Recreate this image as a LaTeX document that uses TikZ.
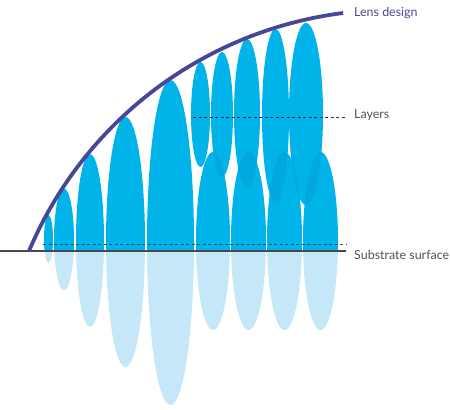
\documentclass[tikz,border=0pt]{standalone}
\usepackage{fontspec}
\setmainfont{Lato}
\definecolor{lensblue}{HTML}{47479A}
\definecolor{dropblue}{HTML}{00B4EA}
\definecolor{dropdark}{HTML}{00A8E0}
\definecolor{droplight}{HTML}{C6E7F8}
\definecolor{labelgray}{HTML}{505058}
\definecolor{dashblue}{HTML}{2F4A78}
\begin{document}
\begin{tikzpicture}[
			x = 1bp, y = -1bp,
			every node/.style = {font=\fontsize{12.5}{15}\selectfont, anchor=base west, inner sep=0pt, text=labelgray},
			drop/.style = {fill=dropblue},
			dropover/.style = {fill=dropdark},
			dropfaint/.style = {fill=droplight},
			guide/.style = {dashed, dash pattern=on 3bp off 2.5bp, line width=1bp}
			]
			\useasboundingbox (0,0) rectangle (450,409);

			% first layer: cx/cy/rx/ry
			\def\firstlayer{48.5/239/4.5/24, 64/239.5/10/51, 90/240.5/14/86.5,
				125.5/242/19.5/125, 170.5/242.5/23.5/162.5, 213/241/17/89,
				248.5/241/17.5/89, 284.5/241/17.5/89, 320.5/241/17.5/89}
			% second layer
			\def\secondlayer{200.5/114.5/9.5/52.5, 222/114.5/11/62.5, 247/113.5/13/74.5,
				275.5/115.5/13.5/86.5, 306/114/17/91}

			% below the substrate
			\begin{scope}
				\clip (0,251) rectangle (450,409);
				\foreach \cx/\cy/\rx/\ry in \firstlayer
					\fill[dropfaint] (\cx,\cy) ellipse [x radius=\rx, y radius=\ry];
			\end{scope}

			% above the substrate
			\begin{scope}
				\clip (0,0) rectangle (450,251);
				\foreach \cx/\cy/\rx/\ry in \firstlayer
					\fill[drop] (\cx,\cy) ellipse [x radius=\rx, y radius=\ry];
				\foreach \cx/\cy/\rx/\ry in \secondlayer
					\fill[drop] (\cx,\cy) ellipse [x radius=\rx, y radius=\ry];
				% overlaps
				\foreach \ux/\uy/\urx/\ury in \secondlayer {
					\begin{scope}
						\clip (\ux,\uy) ellipse [x radius=\urx, y radius=\ury];
						\foreach \cx/\cy/\rx/\ry in \firstlayer
							\fill[dropover] (\cx,\cy) ellipse [x radius=\rx, y radius=\ry];
					\end{scope}
				}
			\end{scope}

			\draw[guide, dashblue] (43,244) -- (347,244);
			\draw[guide, black!80] (193,117) -- (345,117);
			\draw[labelgray!90!black, line width=1.3bp] (0,251) -- (346,251);

			% lens outline
			\draw[lensblue, line width=3.8bp] (29,251) arc[start angle=-157.1, end angle=-97.2, radius=394.7];

			\node[text=lensblue] (lens) at (354,16) {Lens design};
			\node (layers) at (354,118.3) {Layers};
			\node (substrate) at (354,259) {Substrate surface};

		\end{tikzpicture}
\end{document}
